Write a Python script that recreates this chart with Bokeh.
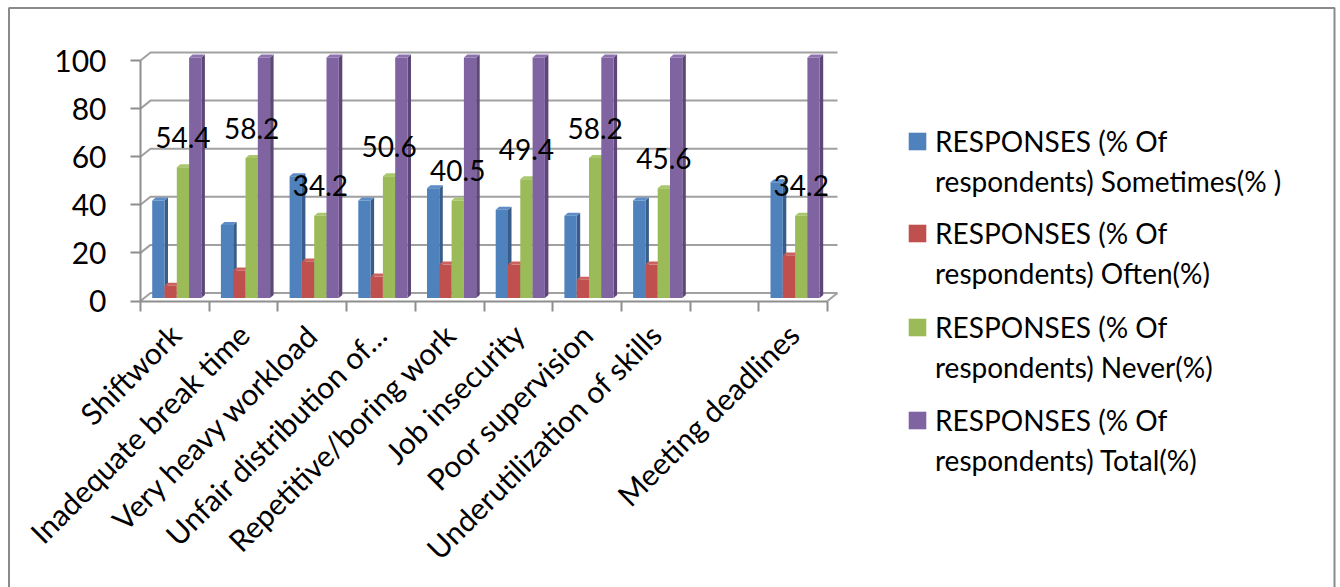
import math

from bokeh.core.properties import value
from bokeh.embed import file_html
from bokeh.models import FixedTicker, Grid, Legend, LegendItem, LinearAxis, Range1d
from bokeh.plotting import figure
from bokeh.resources import INLINE

# ---- data -------------------------------------------------------------
categories = [
    "Shiftwork",
    "Inadequate break time",
    "Very heavy workload",
    "Unfair distribution of…",
    "Repetitive/boring work",
    "Job insecurity",
    "Poor supervision",
    "Underutilization of skills",
    "",
    "Meeting deadlines",
]
sometimes = [40.5, 30.4, 50.6, 40.5, 45.6, 36.7, 34.2, 40.5, None, 48.1]
often = [5.1, 11.4, 15.2, 8.9, 13.9, 13.9, 7.6, 13.9, None, 17.7]
never = [54.4, 58.2, 34.2, 50.6, 40.5, 49.4, 58.2, 45.6, None, 34.2]
total = [100, 100, 100, 100, 100, 100, 100, 100, None, 100]
y_ticks = [0, 20, 40, 60, 80, 100]

series = [sometimes, often, never, total]
legend_line1 = "RESPONSES (% Of"
legend_line2 = [
    "respondents) Sometimes(% )",
    "respondents) Often(%)",
    "respondents) Never(%)",
    "respondents) Total(%)",
]

# ---- styling ----------------------------------------------------------
FONT = "Lato"
front_colors = ["#4f81bd", "#c0504d", "#9bbb59", "#8064a2"]
side_colors = ["#385d8a", "#8c3a38", "#71893f", "#5c4776"]
top_colors = ["#5d8cc6", "#cb625f", "#a9c76c", "#8d72b0"]
GRID = "#a0a0a0"
AXIS = "#8e8e8e"
BORDER = "#8a8a8a"

W, H = 1340, 587
X0, SX = 140.0, 68.7     # screen x of the first category edge, px per category
Y0, SY = 300.5, 2.405    # screen y of zero, px per percentage point
px_x, px_y = 1.0 / SX, 1.0 / SY

n = len(categories)
edge0 = -0.5                          # data x of the first category edge
x_start = edge0 - X0 / SX

p = figure(
    width=W, height=H,
    x_range=Range1d(x_start, x_start + W / SX),
    y_range=Range1d((Y0 - H) / SY, Y0 / SY),
    min_border=0, toolbar_location=None, output_backend="svg",
    x_axis_location=None, y_axis_location=None,
)
p.outline_line_color = None
p.background_fill_color = "white"
p.border_fill_color = "white"
p.center = [r for r in p.center if not isinstance(r, Grid)]


def sx(px):
    return x_start + px / SX


def sy(py):
    return (Y0 - py) / SY


# outer chart border (open at the bottom)
p.line([sx(8.5), sx(8.5), sx(1334), sx(1334)],
       [sy(H + 10), sy(7.5), sy(7.5), sy(H + 10)],
       line_color=BORDER, line_width=2)

# ---- 3-D walls ----------------------------------------------------------
depth_x, depth_y = 10 * px_x, 8 * px_y
edge_end = edge0 + n
p.multi_line(
    [[edge0, edge0 + depth_x, edge_end + depth_x] for _ in y_ticks],
    [[t, t + depth_y, t + depth_y] for t in y_ticks],
    line_color=GRID, line_width=2,
)
p.line([edge_end, edge_end + depth_x], [0, depth_y], line_color=GRID, line_width=2)

# ---- 3-D columns --------------------------------------------------------
bar_w = 12.3 * px_x
lead = 11.7 * px_x
lift = 3 * px_y
sdx, sdy = 3.5 * px_x, 3 * px_y

front_renderers = []
for j, vals in enumerate(series):
    idx = [i for i, v in enumerate(vals) if v is not None]
    left = [i - 0.5 + lead + j * bar_w for i in idx]
    right = [l + bar_w for l in left]
    top = [vals[i] + lift for i in idx]
    p.patches(
        [[r, r + sdx, r + sdx, r] for r in right],
        [[lift, lift + sdy, t + sdy, t] for t in top],
        fill_color=side_colors[j], line_color=None,
    )
    p.patches(
        [[l, l + sdx, r + sdx, r] for l, r in zip(left, right)],
        [[t, t + sdy, t + sdy, t] for t in top],
        fill_color=top_colors[j], line_color=None,
    )
    fr = p.quad(left=left, right=right, bottom=lift, top=top,
                fill_color=front_colors[j], line_color=None)
    front_renderers.append(fr)

# data labels on the "Never" series
idx_n = [i for i, v in enumerate(never) if v is not None]
p.text(
    x=[i - 0.5 + lead + 2.5 * bar_w for i in idx_n],
    y=[never[i] + lift for i in idx_n],
    text=[f"{never[i]:g}" for i in idx_n],
    text_font=value(FONT), text_font_size="28px", text_color="black",
    text_align="center", text_baseline="middle", y_offset=-30,
)

# ---- axes -----------------------------------------------------------------
yaxis = LinearAxis(
    fixed_location=edge0,
    ticker=FixedTicker(ticks=y_ticks),
    bounds=(0, 100),
    axis_line_color=AXIS, axis_line_width=2,
    major_tick_line_color=AXIS, major_tick_line_width=2,
    major_tick_out=10, major_tick_in=0,
    minor_tick_out=0, minor_tick_in=0,
    major_label_standoff=24,
    major_label_text_font=FONT, major_label_text_font_size="30px",
    major_label_text_color="black",
)
p.add_layout(yaxis, "left")

label_ticks = [i for i, c in enumerate(categories) if c]
xaxis = LinearAxis(
    fixed_location=0,
    ticker=FixedTicker(ticks=label_ticks, minor_ticks=[edge0 + k for k in range(n + 1)]),
    bounds=(edge0, edge_end),
    major_label_overrides={i: categories[i] for i in label_ticks},
    axis_line_color=AXIS, axis_line_width=2,
    major_tick_out=0, major_tick_in=0,
    minor_tick_line_color=AXIS, minor_tick_line_width=2,
    minor_tick_out=10, minor_tick_in=0,
    major_label_orientation=math.pi / 4,
    major_label_standoff=18,
    major_label_text_font=FONT, major_label_text_font_size="30px",
    major_label_text_color="black",
)
p.add_layout(xaxis, "below")

# ---- legend -----------------------------------------------------------------
line1_centers = [140.7, 233.0, 327.0, 420.0]
for j in range(4):
    blank = p.quad(left=[], right=[], top=[], bottom=[], fill_alpha=0, line_alpha=0)
    leg = Legend(
        items=[
            LegendItem(label=value(legend_line1), renderers=[front_renderers[j]]),
            LegendItem(label=value(legend_line2[j]), renderers=[blank]),
        ],
        location=(906, H - (line1_centers[j] + 60)),
        orientation="vertical",
        glyph_width=22, glyph_height=22, label_height=40, spacing=0,
        padding=0, margin=0, label_standoff=7,
        border_line_color=None, background_fill_alpha=0,
        label_text_font=FONT, label_text_font_size="28px", label_text_color="black",
    )
    p.add_layout(leg)

open("out.html", "w").write(file_html(p, INLINE))
